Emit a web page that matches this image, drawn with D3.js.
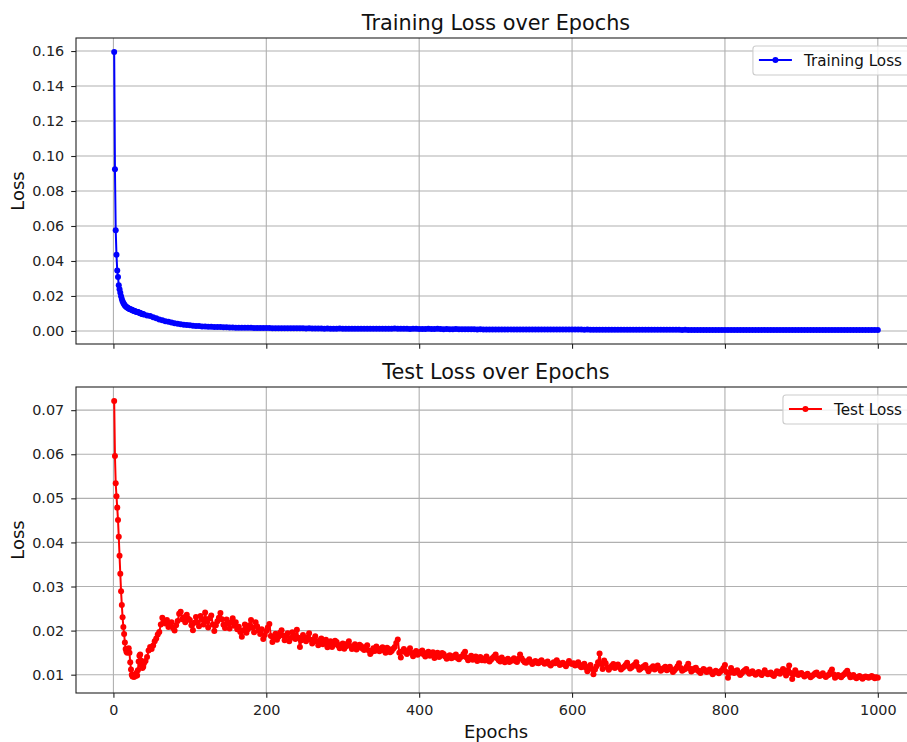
<!DOCTYPE html>
<html>
<head>
<meta charset="utf-8">
<script src="https://cdn.jsdelivr.net/npm/d3@7"></script>
<style>
  body { margin: 0; background: #fff; }
  svg { display: block; font-family: "DejaVu Sans", sans-serif; }
</style>
</head>
<body>
<div id="chart"></div>
<script>
// training: epochs 1..40, then every 4th epoch
var trainEpochs = d3.range(1, 41).concat(d3.range(44, 1001, 4));
// test: epochs 1..40, then every 2nd epoch
var testEpochs = d3.range(1, 41).concat(d3.range(42, 1001, 2));

var trainLoss = [
    0.1595, 0.0925, 0.0576, 0.0435, 0.0346, 0.0308, 0.0262, 0.0238, 0.0218, 0.0198,
    0.0182, 0.0170, 0.0160, 0.0152, 0.0146, 0.0141, 0.0137, 0.0134, 0.0131, 0.0129,
    0.0126, 0.0124, 0.0122, 0.0121, 0.0118, 0.0116, 0.0115, 0.0113, 0.0111, 0.0110,
    0.0109, 0.0108, 0.0106, 0.0104, 0.0102, 0.0100, 0.0099, 0.0097, 0.0096, 0.0094,
    0.0089, 0.0085, 0.0079, 0.0072, 0.0066, 0.0061, 0.0056, 0.0052, 0.0048, 0.0044,
    0.0041, 0.0038, 0.0036, 0.0034, 0.0032, 0.0030, 0.0029, 0.0028, 0.0026, 0.0025,
    0.0024, 0.0024, 0.0023, 0.0022, 0.0022, 0.0021, 0.0021, 0.0020, 0.0020, 0.0019,
    0.0019, 0.0019, 0.0018, 0.0018, 0.0018, 0.0017, 0.0017, 0.0017, 0.0017, 0.0017,
    0.0017, 0.0016, 0.0016, 0.0016, 0.0016, 0.0016, 0.0015, 0.0015, 0.0016, 0.0015,
    0.0015, 0.0015, 0.0014, 0.0015, 0.0014, 0.0014, 0.0014, 0.0014, 0.0013, 0.0014,
    0.0013, 0.0013, 0.0013, 0.0014, 0.0013, 0.0013, 0.0013, 0.0012, 0.0013, 0.0012,
    0.0012, 0.0012, 0.0013, 0.0012, 0.0012, 0.0012, 0.0012, 0.0013, 0.0012, 0.0012,
    0.0013, 0.0014, 0.0012, 0.0013, 0.0012, 0.0012, 0.0011, 0.0012, 0.0013, 0.0011,
    0.0011, 0.0011, 0.0012, 0.0011, 0.0011, 0.0012, 0.0011, 0.0010, 0.0011, 0.0010,
    0.0010, 0.0011, 0.0010, 0.0010, 0.0010, 0.0010, 0.0010, 0.0010, 0.0009, 0.0010,
    0.0009, 0.0009, 0.0009, 0.0009, 0.0009, 0.0009, 0.0009, 0.0009, 0.0009, 0.0009,
    0.0009, 0.0009, 0.0008, 0.0009, 0.0008, 0.0008, 0.0008, 0.0008, 0.0008, 0.0008,
    0.0008, 0.0008, 0.0008, 0.0008, 0.0008, 0.0008, 0.0008, 0.0008, 0.0008, 0.0008,
    0.0008, 0.0008, 0.0008, 0.0007, 0.0008, 0.0007, 0.0007, 0.0007, 0.0007, 0.0007,
    0.0007, 0.0007, 0.0007, 0.0007, 0.0007, 0.0007, 0.0007, 0.0007, 0.0007, 0.0007,
    0.0007, 0.0007, 0.0007, 0.0007, 0.0007, 0.0007, 0.0007, 0.0007, 0.0007, 0.0007,
    0.0007, 0.0007, 0.0007, 0.0007, 0.0007, 0.0006, 0.0007, 0.0006, 0.0006, 0.0006,
    0.0006, 0.0006, 0.0006, 0.0006, 0.0006, 0.0006, 0.0006, 0.0006, 0.0006, 0.0006,
    0.0006, 0.0006, 0.0006, 0.0006, 0.0006, 0.0006, 0.0006, 0.0006, 0.0006, 0.0006,
    0.0006, 0.0006, 0.0006, 0.0006, 0.0006, 0.0006, 0.0006, 0.0006, 0.0006, 0.0006,
    0.0006, 0.0006, 0.0006, 0.0006, 0.0006, 0.0006, 0.0006, 0.0006, 0.0006, 0.0006,
    0.0006, 0.0006, 0.0006, 0.0005, 0.0006, 0.0005, 0.0005, 0.0006, 0.0005, 0.0005,
    0.0005, 0.0005, 0.0005, 0.0005, 0.0005, 0.0005, 0.0005, 0.0005, 0.0005, 0.0005
];

var testLoss = [
    // epochs 1-40
    0.0721, 0.0596, 0.0534, 0.0505, 0.0479, 0.0451, 0.0413, 0.0370, 0.0329, 0.0289,
    0.0258, 0.0230, 0.0208, 0.0192, 0.0173, 0.0158, 0.0152, 0.0150, 0.0156, 0.0160,
    0.0150, 0.0128, 0.0112, 0.0100, 0.0096, 0.0098, 0.0095, 0.0100, 0.0097, 0.0104,
    0.0098, 0.0110, 0.0130, 0.0143, 0.0146, 0.0132, 0.0120, 0.0115, 0.0118, 0.0126,
    // epochs 42-1000, step 2
    0.0131, 0.0140, 0.0155, 0.0163, 0.0158, 0.0166, 0.0176, 0.0182, 0.0191, 0.0197,
    0.0214, 0.0229, 0.0222, 0.0216, 0.0224, 0.0208, 0.0213, 0.0219, 0.0206, 0.0200,
    0.0212, 0.0222, 0.0238, 0.0243, 0.0226, 0.0230, 0.0219, 0.0236, 0.0227, 0.0224,
    0.0212, 0.0201, 0.0218, 0.0231, 0.0219, 0.0210, 0.0233, 0.0226, 0.0214, 0.0241,
    0.0222, 0.0207, 0.0228, 0.0234, 0.0214, 0.0199, 0.0212, 0.0221, 0.0229, 0.0240,
    0.0226, 0.0213, 0.0206, 0.0225, 0.0216, 0.0205, 0.0219, 0.0228, 0.0211, 0.0219,
    0.0203, 0.0209, 0.0197, 0.0186, 0.0201, 0.0214, 0.0195, 0.0203, 0.0212, 0.0224,
    0.0207, 0.0196, 0.0219, 0.0210, 0.0201, 0.0192, 0.0203, 0.0181, 0.0190, 0.0199,
    0.0207, 0.0215, 0.0188, 0.0174, 0.0185, 0.0193, 0.0179, 0.0186, 0.0195, 0.0201,
    0.0189, 0.0178, 0.0187, 0.0194, 0.0176, 0.0183, 0.0196, 0.0190, 0.0181, 0.0202,
    0.0184, 0.0163, 0.0178, 0.0190, 0.0181, 0.0176, 0.0185, 0.0194, 0.0179, 0.0171,
    0.0180, 0.0187, 0.0175, 0.0167, 0.0178, 0.0182, 0.0169, 0.0173, 0.0179, 0.0162,
    0.0170, 0.0176, 0.0163, 0.0168, 0.0177, 0.0174, 0.0166, 0.0160, 0.0168, 0.0171,
    0.0159, 0.0164, 0.0170, 0.0176, 0.0165, 0.0158, 0.0163, 0.0169, 0.0157, 0.0161,
    0.0168, 0.0165, 0.0159, 0.0156, 0.0163, 0.0167, 0.0155, 0.0147, 0.0152, 0.0160,
    0.0154, 0.0164, 0.0158, 0.0153, 0.0159, 0.0162, 0.0155, 0.0150, 0.0161, 0.0158,
    0.0151, 0.0154, 0.0159, 0.0163, 0.0172, 0.0180, 0.0150, 0.0139, 0.0153, 0.0158,
    0.0151, 0.0147, 0.0155, 0.0160, 0.0149, 0.0142, 0.0150, 0.0154, 0.0145, 0.0148,
    0.0152, 0.0155, 0.0146, 0.0141, 0.0149, 0.0152, 0.0143, 0.0146, 0.0151, 0.0138,
    0.0144, 0.0150, 0.0140, 0.0143, 0.0149, 0.0147, 0.0141, 0.0136, 0.0142, 0.0144,
    0.0137, 0.0139, 0.0143, 0.0146, 0.0138, 0.0135, 0.0140, 0.0141, 0.0147, 0.0152,
    0.0139, 0.0133, 0.0137, 0.0143, 0.0134, 0.0137, 0.0141, 0.0131, 0.0135, 0.0140,
    0.0133, 0.0136, 0.0132, 0.0141, 0.0135, 0.0130, 0.0134, 0.0138, 0.0141, 0.0146,
    0.0137, 0.0133, 0.0130, 0.0139, 0.0134, 0.0128, 0.0133, 0.0136, 0.0129, 0.0131,
    0.0134, 0.0137, 0.0131, 0.0129, 0.0136, 0.0146, 0.0137, 0.0132, 0.0128, 0.0127,
    0.0131, 0.0135, 0.0129, 0.0124, 0.0128, 0.0131, 0.0127, 0.0126, 0.0130, 0.0133,
    0.0128, 0.0125, 0.0127, 0.0130, 0.0124, 0.0121, 0.0125, 0.0128, 0.0126, 0.0133,
    0.0127, 0.0122, 0.0125, 0.0127, 0.0123, 0.0119, 0.0125, 0.0131, 0.0126, 0.0124,
    0.0126, 0.0121, 0.0124, 0.0128, 0.0120, 0.0117, 0.0122, 0.0125, 0.0116, 0.0108,
    0.0118, 0.0122, 0.0113, 0.0101, 0.0112, 0.0119, 0.0128, 0.0148, 0.0124, 0.0113,
    0.0132, 0.0126, 0.0117, 0.0111, 0.0116, 0.0120, 0.0124, 0.0115, 0.0119, 0.0123,
    0.0117, 0.0112, 0.0115, 0.0118, 0.0122, 0.0127, 0.0119, 0.0114, 0.0117, 0.0120,
    0.0123, 0.0128, 0.0118, 0.0111, 0.0114, 0.0117, 0.0119, 0.0122, 0.0114, 0.0108,
    0.0113, 0.0116, 0.0119, 0.0112, 0.0117, 0.0121, 0.0114, 0.0109, 0.0112, 0.0115,
    0.0118, 0.0110, 0.0114, 0.0118, 0.0111, 0.0106, 0.0110, 0.0114, 0.0119, 0.0126,
    0.0115, 0.0109, 0.0111, 0.0113, 0.0118, 0.0125, 0.0114, 0.0107, 0.0110, 0.0114,
    0.0116, 0.0110, 0.0107, 0.0104, 0.0109, 0.0113, 0.0110, 0.0106, 0.0108, 0.0112,
    0.0106, 0.0101, 0.0105, 0.0109, 0.0106, 0.0103, 0.0107, 0.0110, 0.0115, 0.0122,
    0.0106, 0.0093, 0.0104, 0.0115, 0.0109, 0.0104, 0.0107, 0.0110, 0.0104, 0.0099,
    0.0103, 0.0107, 0.0110, 0.0113, 0.0106, 0.0102, 0.0105, 0.0108, 0.0103, 0.0100,
    0.0103, 0.0106, 0.0102, 0.0099, 0.0104, 0.0110, 0.0104, 0.0101, 0.0103, 0.0105,
    0.0100, 0.0097, 0.0102, 0.0108, 0.0104, 0.0102, 0.0108, 0.0113, 0.0105, 0.0098,
    0.0110, 0.0121, 0.0104, 0.0090, 0.0101, 0.0110, 0.0104, 0.0099, 0.0102, 0.0104,
    0.0100, 0.0096, 0.0099, 0.0102, 0.0098, 0.0094, 0.0097, 0.0100, 0.0103, 0.0105,
    0.0100, 0.0097, 0.0100, 0.0103, 0.0098, 0.0095, 0.0098, 0.0100, 0.0106, 0.0112,
    0.0101, 0.0093, 0.0096, 0.0099, 0.0097, 0.0094, 0.0098, 0.0101, 0.0105, 0.0109,
    0.0101, 0.0094, 0.0096, 0.0099, 0.0095, 0.0092, 0.0095, 0.0097, 0.0094, 0.0091,
    0.0094, 0.0096, 0.0095, 0.0093, 0.0095, 0.0097, 0.0095, 0.0092, 0.0094, 0.0093
];

var xTicks = [0, 200, 400, 600, 800, 1000];
var trainTicks = [0.00, 0.02, 0.04, 0.06, 0.08, 0.10, 0.12, 0.14, 0.16];
var testTicks = [0.01, 0.02, 0.03, 0.04, 0.05, 0.06, 0.07];

var width = 907,
    height = 742,
    left = 76,
    right = 916,
    markerR = 3,
    panels = [
        {top: 38, bottom: 344, epochs: trainEpochs, values: trainLoss, ticks: trainTicks, color: "blue",
            title: "Training Loss over Epochs", label: "Training Loss", showX: false},
        {top: 387, bottom: 693, epochs: testEpochs, values: testLoss, ticks: testTicks, color: "red",
            title: "Test Loss over Epochs", label: "Test Loss", showX: true}
    ];

var svg = d3.select("#chart").append("svg")
    .attr("width", width)
    .attr("height", height);

// matplotlib style 5% margins
function padded(ext) {
    var pad = (ext[1] - ext[0]) * 0.05;
    return [ext[0] - pad, ext[1] + pad];
}

var x = d3.scaleLinear().domain(padded(d3.extent(testEpochs))).range([left, right]);

panels.forEach(function (p, i) {
    var y = d3.scaleLinear().domain(padded(d3.extent(p.values))).range([p.bottom, p.top]),
        g = svg.append("g"),
        pts = p.epochs.map(function (e, k) { return [e, p.values[k]]; }),
        clipId = "clip" + i;

    svg.append("clipPath").attr("id", clipId).append("rect")
        .attr("x", left).attr("y", p.top)
        .attr("width", right - left).attr("height", p.bottom - p.top);

    //grid
    g.selectAll(".gx").data(xTicks).enter().append("line")
        .attr("x1", x).attr("x2", x)
        .attr("y1", p.top).attr("y2", p.bottom)
        .attr("stroke", "#b0b0b0").attr("stroke-width", 1.1);
    g.selectAll(".gy").data(p.ticks).enter().append("line")
        .attr("x1", left).attr("x2", right)
        .attr("y1", y).attr("y2", y)
        .attr("stroke", "#b0b0b0").attr("stroke-width", 1.1);

    //axes
    var yAxis = g.append("g")
        .attr("transform", "translate(" + left + ",0)")
        .call(d3.axisLeft(y).tickValues(p.ticks).tickFormat(d3.format(".2f"))
            .tickSize(4.8).tickPadding(7));
    var xAxis = g.append("g")
        .attr("transform", "translate(0," + p.bottom + ")")
        .call(d3.axisBottom(x).tickValues(xTicks).tickSize(4.8).tickPadding(7)
            .tickFormat(p.showX ? d3.format("d") : ""));
    [xAxis, yAxis].forEach(function (a) {
        a.select(".domain").remove();
        a.selectAll("line").attr("stroke", "#222").attr("stroke-width", 1.1);
        a.selectAll("text").attr("fill", "#222")
            .style("font-family", "DejaVu Sans").style("font-size", "14.4px");
    });

    //data
    var plot = g.append("g").attr("clip-path", "url(#" + clipId + ")");
    plot.append("path")
        .datum(pts)
        .attr("fill", "none")
        .attr("stroke", p.color)
        .attr("stroke-width", 2)
        .attr("stroke-linejoin", "round")
        .attr("d", d3.line().x(function (d) { return x(d[0]); }).y(function (d) { return y(d[1]); }));
    plot.selectAll("circle").data(pts).enter().append("circle")
        .attr("cx", function (d) { return x(d[0]); })
        .attr("cy", function (d) { return y(d[1]); })
        .attr("r", markerR)
        .attr("fill", p.color);

    //frame
    g.append("rect")
        .attr("x", left).attr("y", p.top)
        .attr("width", right - left).attr("height", p.bottom - p.top)
        .attr("fill", "none").attr("stroke", "#222").attr("stroke-width", 1.1);

    //title
    g.append("text")
        .attr("x", (left + right) / 2).attr("y", p.top - 8)
        .attr("text-anchor", "middle")
        .attr("fill", "#111")
        .style("font-size", "20.8px")
        .text(p.title);

    //y label
    g.append("text")
        .attr("transform", "translate(24," + (p.top + p.bottom) / 2 + ") rotate(-90)")
        .attr("text-anchor", "middle")
        .attr("fill", "#111")
        .style("font-size", "17.9px")
        .text("Loss");

    //legend
    var leg = g.append("g"),
        box = leg.append("rect"),
        txt = leg.append("text")
            .attr("y", p.top + 27.5)
            .attr("fill", "#111")
            .style("font-size", "15.2px")
            .text(p.label),
        tw = txt.node().getComputedTextLength(),
        lx = 909 - (tw + 58),
        ly = p.top + 22;
    txt.attr("x", lx + 51);
    box.attr("x", lx).attr("y", p.top + 8)
        .attr("width", tw + 58).attr("height", 29)
        .attr("rx", 3)
        .attr("fill", "#fff").attr("fill-opacity", 0.8)
        .attr("stroke", "#cccccc").attr("stroke-width", 1.1);
    leg.append("line")
        .attr("x1", lx + 6).attr("x2", lx + 39)
        .attr("y1", ly).attr("y2", ly)
        .attr("stroke", p.color).attr("stroke-width", 2);
    leg.append("circle")
        .attr("cx", lx + 22.5).attr("cy", ly).attr("r", markerR)
        .attr("fill", p.color);
});

//x label
svg.append("text")
    .attr("x", (left + right) / 2).attr("y", 738)
    .attr("text-anchor", "middle")
    .attr("fill", "#111")
    .style("font-size", "17.9px")
    .text("Epochs");
</script>
</body>
</html>
